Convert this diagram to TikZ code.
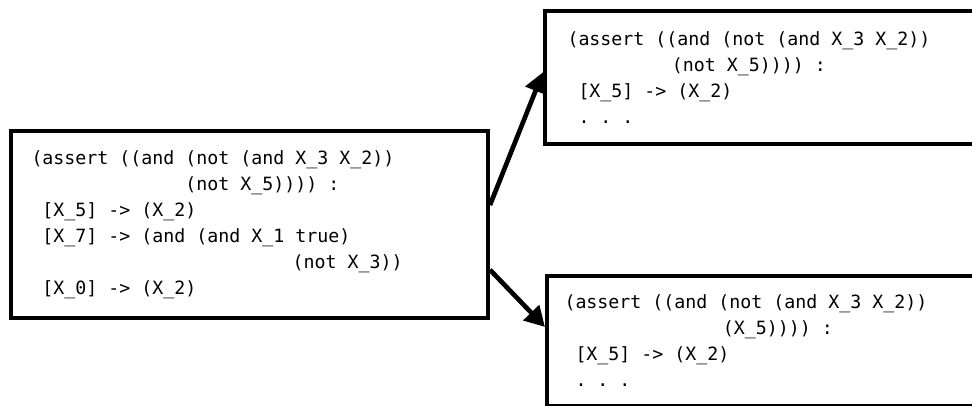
\documentclass[tikz,border=0pt]{standalone}
\usepackage{fontspec}
\usepackage{tikz}
\usetikzlibrary{arrows.meta,positioning}

\newfontfamily\codefont{DejaVu Sans Mono}
\newlength\chw
\newcommand\sk[1]{\hspace*{#1\chw}}
\newcommand\codesetup{\codefont\fontsize{13.7}{19.5}\selectfont
  \settowidth{\chw}{0}}

\begin{document}
\begin{tikzpicture}[
  x=0.75pt, y=-0.75pt,
  codebox/.style={draw, line width=3pt, anchor=north west, align=flush left,
                  inner ysep=0pt, font=\codesetup},
  arr/.style={-{Triangle[length=15pt, width=16pt]}, line width=3.5pt},
]
\useasboundingbox (0,0) rectangle (972,406);
\clip (0,0) rectangle (972,406);

%% --- Cajas ---
\node[codebox, minimum width=357.75pt, minimum height=140.25pt,
      inner xsep=15pt, text width=327pt] (orig) at (9,129)
  {(assert ((and (not (and X\_3 X\_2))\\
   \sk{14}(not X\_5)))) :\\
   \sk{1}[X\_5] -> (X\_2)\\
   \sk{1}[X\_7] -> (and (and X\_1 true)\\
   \sk{23.75}(not X\_3))\\
   \sk{1}[X\_0] -> (X\_2)};

\node[codebox, minimum width=342.75pt, minimum height=99.75pt,
      inner xsep=16.5pt, text width=309pt] (neg) at (543,9)
  {(assert ((and (not (and X\_3 X\_2))\\
   \sk{9.5}(not X\_5)))) :\\
   \sk{1}[X\_5] -> (X\_2)\\
   \sk{1}.\ .\ .};

\node[codebox, minimum width=341.25pt, minimum height=97.5pt,
      inner xsep=12.75pt, text width=315pt] (pos) at (545,274)
  {(assert ((and (not (and X\_3 X\_2))\\
   \sk{14.4}(X\_5)))) :\\
   \sk{1}[X\_5] -> (X\_2)\\
   \sk{1}.\ .\ .};

%% --- Flechas ---
\draw[arr] ([yshift=14.6pt]orig.east) -- ([yshift=4pt]neg.west);
\draw[arr] ([yshift=-34pt]orig.east) -- ([yshift=10.5pt]pos.west);

\end{tikzpicture}
\end{document}
